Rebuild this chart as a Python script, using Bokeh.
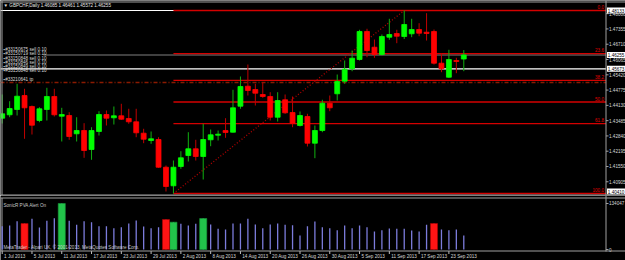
from bokeh.plotting import figure
from bokeh.models import Range1d, Span
from bokeh.layouts import column
from bokeh.embed import file_html
from bokeh.resources import INLINE
from bokeh.core.properties import value

# ---------------- data ----------------
title_text = "\u25bc GBPCHF,Daily  1.46085 1.46461 1.45572 1.46255"

opens = [1.43588, 1.43732, 1.43955, 1.44546, 1.44082, 1.43491, 1.43955, 1.44504, 1.43672, 1.43702,
         1.42930, 1.43069, 1.42267, 1.43027, 1.43744, 1.43605, 1.43689, 1.43575, 1.43436, 1.42955,
         1.42647, 1.42689, 1.41520, 1.40735, 1.41550, 1.42014, 1.42297, 1.41972, 1.42677, 1.42871,
         1.43069, 1.42997, 1.44094, 1.44938, 1.44799, 1.44588, 1.44504, 1.43630, 1.44365, 1.43829,
         1.43280, 1.43660, 1.42533, 1.43069, 1.44221, 1.44618, 1.45149, 1.45673, 1.46065, 1.47247,
         1.46584, 1.46276, 1.47006, 1.47162, 1.47036, 1.47150, 1.47331, 1.47217, 1.47247, 1.45909,
         1.45318, 1.46023, 1.46085]
highs = [1.44588, 1.44305, 1.45040, 1.44829, 1.44124, 1.44052, 1.44871, 1.44829, 1.44027, 1.43841,
         1.43630, 1.43377, 1.43208, 1.43883, 1.43913, 1.44082, 1.44196, 1.43985, 1.43985, 1.43141,
         1.43027, 1.42786, 1.41592, 1.41803, 1.42195, 1.42997, 1.42677, 1.43352, 1.43111, 1.43069,
         1.43588, 1.44787, 1.45348, 1.45854, 1.45040, 1.45095, 1.44685, 1.44685, 1.44588, 1.44504,
         1.43871, 1.43774, 1.43280, 1.44365, 1.44546, 1.45432, 1.46023, 1.46445, 1.47319, 1.47361,
         1.46909, 1.47120, 1.47783, 1.47319, 1.48133, 1.47783, 1.47597, 1.48019, 1.47331, 1.46331,
         1.46475, 1.46137, 1.46461]
lows = [1.43364, 1.43630, 1.43702, 1.42719, 1.42900, 1.43419, 1.43491, 1.43660, 1.42605, 1.42677,
        1.42605, 1.41917, 1.41833, 1.42858, 1.43280, 1.43322, 1.43521, 1.43352, 1.42786, 1.42533,
        1.42508, 1.41495, 1.40495, 1.40410, 1.41453, 1.41761, 1.41803, 1.41001, 1.42406, 1.42647,
        1.42761, 1.42985, 1.43985, 1.44546, 1.44124, 1.44449, 1.43491, 1.43449, 1.43774, 1.43208,
        1.43238, 1.42394, 1.41900, 1.42997, 1.43883, 1.44335, 1.45040, 1.45571, 1.46023, 1.46162,
        1.46137, 1.46234, 1.46897, 1.46753, 1.46930, 1.47006, 1.47048, 1.46867, 1.45854, 1.45529,
        1.45293, 1.45487, 1.45572]
closes = [1.43774, 1.43997, 1.44516, 1.44027, 1.43293, 1.43985, 1.44504, 1.43732, 1.43744, 1.42816,
          1.43069, 1.42225, 1.43069, 1.43744, 1.43588, 1.43689, 1.43546, 1.43436, 1.42972, 1.42702,
          1.42719, 1.41520, 1.40706, 1.41520, 1.41917, 1.42297, 1.41972, 1.42689, 1.42888, 1.42913,
          1.42985, 1.44027, 1.44926, 1.44757, 1.44643, 1.44504, 1.43630, 1.44335, 1.43816, 1.43377,
          1.43702, 1.42533, 1.43069, 1.44221, 1.44027, 1.45137, 1.45656, 1.46120, 1.47247, 1.46445,
          1.46276, 1.47036, 1.47120, 1.47048, 1.47542, 1.47331, 1.47175, 1.47162, 1.45909, 1.45673,
          1.46065, 1.45981, 1.46255]
volumes = [67900, 69900, 82500, 75800, 89500, 64100, 83600, 91200, 134047, 83600,
           72000, 82500, 79600, 67900, 67900, 62100, 65000, 75800, 84500, 67000,
           62100, 65000, 87400, 79600, 74900, 69900, 74900, 90300, 72900, 60300,
           58300, 75800, 75800, 89500, 72900, 62100, 72900, 75800, 72000, 70800,
           40800, 67900, 81600, 65000, 62100, 56200, 69900, 62100, 69900, 65000,
           52500, 56200, 61200, 60300, 60300, 55400, 52500, 72000, 75800, 58300,
           56200, 58300, 40800]
climax_up_idx = [8, 23, 27]
climax_down_idx = [3, 22, 58]

date_labels = ["1 Jul 2013", "5 Jul 2013", "11 Jul 2013", "17 Jul 2013", "23 Jul 2013",
               "29 Jul 2013", "2 Aug 2013", "8 Aug 2013", "14 Aug 2013", "20 Aug 2013",
               "26 Aug 2013", "30 Aug 2013", "5 Sep 2013", "11 Sep 2013", "17 Sep 2013",
               "23 Sep 2013"]
date_label_idx = [0, 4, 8, 12, 16, 20, 24, 28, 32, 36, 40, 44, 48, 52, 56, 60]

price_ticks = [1.40905, 1.41550, 1.42195, 1.42840, 1.43485, 1.44130, 1.44775,
               1.45420, 1.46065, 1.46710, 1.47355, 1.48000]
fib_levels = [0.0, 23.6, 38.2, 50.0, 61.8, 100.0]
order_labels = ["#33150675 sell 0.10", "#33150719 sell 0.10", "#33150848 sell 0.10",
                "#33150846 sell 0.10", "#33150849 sell 0.10", "#33150848 sell 0.10"]
tp_label = "#33210641 tp"
tp_price = 1.45095
order_line_price = 1.45673
vol_ticks = [0, 134047]
indicator_name = "SonicR PVA   Alert On"
copyright_text = "MetaTrader - Alpari UK, \u00a9 2001-2013, MetaQuotes Software Corp."

# ---------------- layout helpers ----------------
XPX = 7.445          # pixels per bar
X_FIRST = 1.7        # canvas px of first bar
K = 0.000422         # price per pixel
P0 = 1.48555         # price at canvas y = 0
VK = 2914.0          # volume per pixel
VBASE = 249.0        # canvas y of volume baseline
AXIS_X = 605.5


def mx(px):
    return (px - X_FIRST) / XPX


def my(py):
    return P0 - K * py


def vy(py):
    return (VBASE - py) * VK


n = len(opens)
xs = list(range(n))
FONT = value("Liberation Sans")
FS = value("4.6px")
GRAY = "#a0a0a0"
LABEL_COL = "#d8d8d8"

x_range = Range1d(mx(0), mx(625))

# ---------------- main price panel ----------------
p = figure(width=625, height=195, x_range=x_range, y_range=Range1d(my(195), my(0)),
           output_backend="svg", toolbar_location=None,
           x_axis_location=None, y_axis_location=None,
           min_border_left=0, min_border_right=0, min_border_top=0, min_border_bottom=0,
           background_fill_color="black", border_fill_color="black",
           outline_line_color=None)
p.grid.visible = False

hi = max(highs)
lo = min(lows)
hi_idx = highs.index(hi)
lo_idx = lows.index(lo)
last_close = closes[-1]
x_left = mx(0)
x_axis = mx(AXIS_X)

# borders
p.add_layout(Span(location=my(1.5), dimension="width", line_color=GRAY, line_width=1))
p.add_layout(Span(location=my(194.5), dimension="width", line_color=GRAY, line_width=1.2))
p.add_layout(Span(location=mx(1.5), dimension="height", line_color=GRAY, line_width=1))

# horizontal lines
p.segment(x0=[x_left, x_left], y0=[hi, order_line_price], x1=[x_axis, x_axis],
          y1=[hi, order_line_price], line_color="white", line_width=1.2)
p.segment(x0=[x_left], y0=[tp_price], x1=[x_axis], y1=[tp_price], line_color="#8a1a00",
          line_width=1.6, line_dash="4 2 1 2")
p.segment(x0=[mx(43)], y0=[last_close], x1=[x_axis], y1=[last_close],
          line_color="#808080", line_width=1.2)

fib_prices = [hi - (hi - lo) * f / 100.0 for f in fib_levels]
p.segment(x0=[lo_idx] * len(fib_prices), y0=fib_prices,
          x1=[x_axis] * len(fib_prices), y1=fib_prices,
          line_color="#d40000", line_width=1.3)
p.text(x=[mx(603.5)] * len(fib_prices), y=[fp + K * 1.5 for fp in fib_prices],
       text=["%.1f" % f for f in fib_levels], text_color="#e00000",
       text_font=FONT, text_font_size=FS, text_align="right", text_baseline="bottom")

# trend line low -> high
p.line(x=[lo_idx, hi_idx], y=[lo, hi], line_color="#b00000", line_width=1.3, line_dash="1 2")

# candles
up = [c >= o for o, c in zip(opens, closes)]
body_col = ["#00ff00" if u else "#ff0000" for u in up]
wick_col = ["#10b010" if u else "#c00000" for u in up]
p.segment(x0=xs, y0=lows, x1=xs, y1=highs, line_color=wick_col, line_width=1)
p.vbar(x=xs, width=0.66, top=[max(o, c) for o, c in zip(opens, closes)],
       bottom=[min(o, c) for o, c in zip(opens, closes)],
       fill_color=body_col, line_color=body_col, line_width=0.8)

# texts
p.text(x=[mx(3)], y=[my(5)], text=[title_text], text_color="#e8e8e8",
       text_font=FONT, text_font_size=FS, text_baseline="middle")
p.text(x=[mx(3)] * len(order_labels), y=[my(49.3 + 4.1 * i) for i in range(len(order_labels))],
       text=["\u25aa" + t for t in order_labels], text_color=LABEL_COL,
       text_font=FONT, text_font_size=FS, text_baseline="middle")
p.text(x=[mx(3)], y=[my(79.3)], text=["\u25aa" + tp_label], text_color=LABEL_COL,
       text_font=FONT, text_font_size=FS, text_baseline="middle")

# price scale (right)
p.segment(x0=[x_axis], y0=[my(0)], x1=[x_axis], y1=[my(195)], line_color=GRAY, line_width=1)
p.segment(x0=[x_axis] * len(price_ticks), y0=price_ticks,
          x1=[mx(AXIS_X + 2.5)] * len(price_ticks), y1=price_ticks, line_color=GRAY, line_width=1)
p.text(x=[mx(AXIS_X + 3)] * len(price_ticks), y=price_ticks,
       text=["%.5f" % t for t in price_ticks], text_color=LABEL_COL,
       text_font=FONT, text_font_size=FS, text_baseline="middle")

hl_prices = [hi, last_close, order_line_price, lo]
# keep the lowest box inside the panel (it would touch the separator otherwise)
hl_pos = [min(max(h, my(191)), my(8)) for h in hl_prices]
p.rect(x=[mx(AXIS_X + 10.5)] * len(hl_prices), y=hl_pos, width=19, height=6,
       width_units="screen", height_units="screen", fill_color="white", line_color=None)
p.text(x=[mx(AXIS_X + 1.8)] * len(hl_prices), y=hl_pos,
       text=["%.5f" % h for h in hl_prices], text_color="black",
       text_font=FONT, text_font_size=FS, text_baseline="middle")

# ---------------- volume panel ----------------
v = figure(width=625, height=65, x_range=x_range, y_range=Range1d(vy(260), vy(195)),
           output_backend="svg", toolbar_location=None,
           x_axis_location=None, y_axis_location=None,
           min_border_left=0, min_border_right=0, min_border_top=0, min_border_bottom=0,
           background_fill_color="black", border_fill_color="black",
           outline_line_color=None)
v.grid.visible = False

v.add_layout(Span(location=vy(197.5), dimension="width", line_color=GRAY, line_width=1.2))
v.add_layout(Span(location=vy(250.5), dimension="width", line_color=GRAY, line_width=1))
v.segment(x0=[mx(1.5)], y0=[vy(197.5)], x1=[mx(1.5)], y1=[vy(250.5)], line_color=GRAY, line_width=1)

v.segment(x0=xs, y0=[0] * n, x1=xs, y1=volumes, line_color="#7c7cdc", line_width=1.3)
v.vbar(x=climax_up_idx, width=0.95, bottom=0, top=[volumes[i] for i in climax_up_idx],
       fill_color="#22c44a", line_color="#1a9a3a", line_width=0.6)
v.vbar(x=climax_down_idx, width=0.95, bottom=0, top=[volumes[i] for i in climax_down_idx],
       fill_color="#ff1414", line_color="#b00000", line_width=0.6)

v.text(x=[mx(3)], y=[vy(205)], text=[indicator_name], text_color="#c8c8c8",
       text_font=FONT, text_font_size=FS, text_baseline="middle")
v.text(x=[mx(3)], y=[vy(246.5)], text=[copyright_text], text_color="#c8c8c8",
       text_font=FONT, text_font_size=FS, text_baseline="middle")

# volume scale (right)
v.segment(x0=[x_axis], y0=[vy(195)], x1=[x_axis], y1=[vy(251)], line_color=GRAY, line_width=1)
v.segment(x0=[x_axis] * len(vol_ticks), y0=vol_ticks,
          x1=[mx(AXIS_X + 2.5)] * len(vol_ticks), y1=vol_ticks, line_color=GRAY, line_width=1)
v.text(x=[mx(AXIS_X + 3)] * len(vol_ticks), y=vol_ticks,
       text=["%d" % t for t in vol_ticks], text_color=LABEL_COL,
       text_font=FONT, text_font_size=FS, text_baseline="middle")

# date scale
v.segment(x0=date_label_idx, y0=[vy(250.5)] * len(date_label_idx),
          x1=date_label_idx, y1=[vy(253.5)] * len(date_label_idx),
          line_color="#c0c0c0", line_width=1)
v.text(x=[i + 0.25 for i in date_label_idx], y=[vy(255.5)] * len(date_label_idx),
       text=date_labels, text_color=LABEL_COL, text_font=FONT, text_font_size=FS,
       text_align="left", text_baseline="middle")

layout = column(p, v, spacing=0)
open("out.html", "w").write(file_html(layout, INLINE))
